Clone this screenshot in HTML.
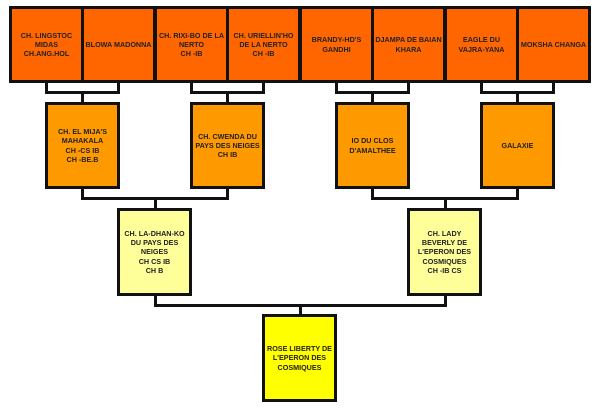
<!DOCTYPE html>
<html><head><meta charset="utf-8"><style>
body{margin:0;width:600px;height:409px;background:#fff;position:relative;overflow:hidden;font-family:"Liberation Sans",Arial,sans-serif}
.b{position:absolute;box-sizing:border-box;border:3px solid #111;display:flex;align-items:center;justify-content:center;text-align:center;font-weight:bold;font-size:7.2px;line-height:9.3px;color:#222;white-space:nowrap}
.t{background:#ff6600;top:6px;height:77px;width:75px}
.l2{background:#ff9900;top:102px;height:87px;width:75px}
.l3{background:#ffff99;top:208px;height:88px;width:75px}
.r{background:#ffff00;top:314px;height:88px;width:75px}
.h,.v{position:absolute;background:#111}
.h{height:3px}.v{width:3px}
</style></head><body>
<div class="b t" style="left:9px">CH. LINGSTOC<br>MIDAS<br>CH.ANG.HOL</div>
<div class="b t" style="left:81px">BLOWA MADONNA</div>
<div class="b t" style="left:154px">CH. RIXI-BO DE LA<br>NERTO<br>CH -IB</div>
<div class="b t" style="left:226px">CH. URIELLIN'HO<br>DE LA NERTO<br>CH -IB</div>
<div class="b t" style="left:299px">BRANDY-HD'S<br>GANDHI</div>
<div class="b t" style="left:371px">DJAMPA DE BAIAN<br>KHARA</div>
<div class="b t" style="left:444px">EAGLE DU<br>VAJRA-YANA</div>
<div class="b t" style="left:516px">MOKSHA CHANGA</div>

<div class="v" style="left:45px;top:82px;height:11px"></div><div class="v" style="left:117px;top:82px;height:11px"></div><div class="h" style="left:45px;top:91px;width:75px"></div><div class="v" style="left:81px;top:91px;height:12px"></div>
<div class="v" style="left:190px;top:82px;height:11px"></div><div class="v" style="left:262px;top:82px;height:11px"></div><div class="h" style="left:190px;top:91px;width:75px"></div><div class="v" style="left:226px;top:91px;height:12px"></div>
<div class="v" style="left:335px;top:82px;height:11px"></div><div class="v" style="left:407px;top:82px;height:11px"></div><div class="h" style="left:335px;top:91px;width:75px"></div><div class="v" style="left:371px;top:91px;height:12px"></div>
<div class="v" style="left:480px;top:82px;height:11px"></div><div class="v" style="left:552px;top:82px;height:11px"></div><div class="h" style="left:480px;top:91px;width:75px"></div><div class="v" style="left:516px;top:91px;height:12px"></div>

<div class="b l2" style="left:45px">CH. EL MIJA'S<br>MAHAKALA<br>CH -CS IB<br>CH -BE.B</div>
<div class="b l2" style="left:190px">CH. CWENDA DU<br>PAYS DES NEIGES<br>CH IB</div>
<div class="b l2" style="left:335px">IO DU CLOS<br>D'AMALTHEE</div>
<div class="b l2" style="left:480px">GALAXIE</div>

<div class="v" style="left:81px;top:188px;height:12px"></div><div class="v" style="left:226px;top:188px;height:12px"></div><div class="h" style="left:81px;top:197px;width:148px"></div><div class="v" style="left:154px;top:197px;height:12px"></div>
<div class="v" style="left:371px;top:188px;height:12px"></div><div class="v" style="left:516px;top:188px;height:12px"></div><div class="h" style="left:371px;top:197px;width:148px"></div><div class="v" style="left:444px;top:197px;height:12px"></div>

<div class="b l3" style="left:117px">CH. LA-DHAN-KO<br>DU PAYS DES<br>NEIGES<br>CH CS IB<br>CH B</div>
<div class="b l3" style="left:407px">CH. LADY<br>BEVERLY DE<br>L'EPERON DES<br>COSMIQUES<br>CH -IB CS</div>

<div class="v" style="left:154px;top:295px;height:12px"></div><div class="v" style="left:444px;top:295px;height:12px"></div><div class="h" style="left:154px;top:304px;width:293px"></div><div class="v" style="left:299px;top:304px;height:12px"></div>

<div class="b r" style="left:262px">ROSE LIBERTY DE<br>L'EPERON DES<br>COSMIQUES</div>
</body></html>
